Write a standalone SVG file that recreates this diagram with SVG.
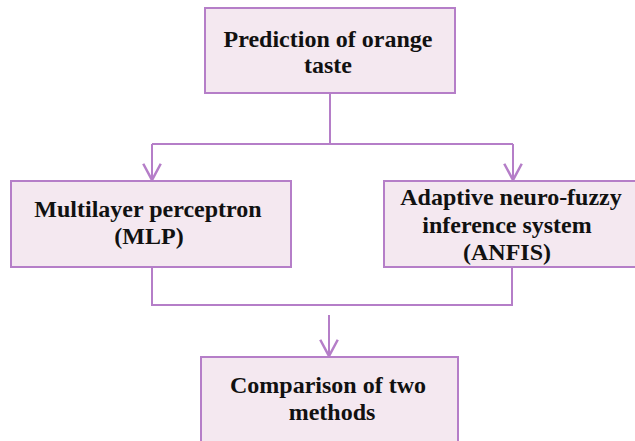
<svg xmlns="http://www.w3.org/2000/svg" width="635" height="441" viewBox="0 0 635 441">
<style>
.box{fill:#f4e8f0;stroke:#b57ec8;stroke-width:2}
.ln{fill:none;stroke:#b57ec8;stroke-width:2}
.t{font-family:"Liberation Serif","Times New Roman",serif;font-weight:bold;font-size:24px;fill:#111;text-anchor:middle}
</style>
<defs>
<marker id="arr" markerUnits="userSpaceOnUse" markerWidth="20" markerHeight="20" viewBox="-14 -8 16 16" refX="0" refY="0" orient="auto">
<path d="M-13,-7 L0,0 L-13,7" fill="none" stroke="#b57ec8" stroke-width="2"/>
</marker>
</defs>
<rect width="635" height="441" fill="#fff"/>
<g id="connectors">
<path class="ln" d="M330,93 V144"/>
<path class="ln" d="M152,144 H513"/>
<path class="ln" d="M152,144 V180" marker-end="url(#arr)"/>
<path class="ln" d="M513,144 V180" marker-end="url(#arr)"/>
<path class="ln" d="M152,267 V305 H512 V267"/>
<path class="ln" d="M329,315 V356" marker-end="url(#arr)"/>
</g>
<g id="node-prediction">
<rect class="box" x="205" y="8" width="250" height="85"/>
<text class="t" x="328" y="47">Prediction of orange</text>
<text class="t" x="328" y="73">taste</text>
</g>
<g id="node-mlp">
<rect class="box" x="11" y="181" width="280" height="86"/>
<text class="t" x="148" y="217">Multilayer perceptron</text>
<text class="t" x="149" y="244">(MLP)</text>
</g>
<g id="node-anfis">
<rect class="box" x="384" y="181" width="262" height="86"/>
<text class="t" x="511" y="205">Adaptive neuro-fuzzy</text>
<text class="t" x="507" y="233">inference system</text>
<text class="t" x="507" y="260">(ANFIS)</text>
</g>
<g id="node-comparison">
<rect class="box" x="201" y="357" width="257" height="92"/>
<text class="t" x="328" y="393">Comparison of two</text>
<text class="t" x="332" y="420">methods</text>
</g>
</svg>
